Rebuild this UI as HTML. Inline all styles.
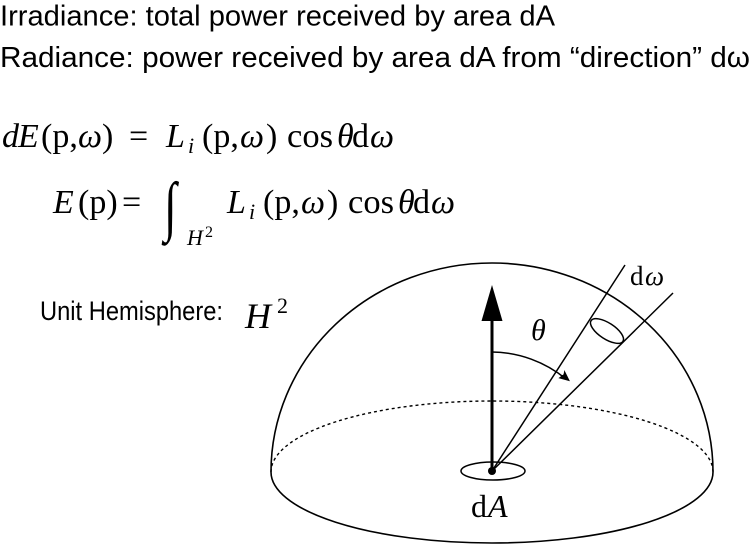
<!DOCTYPE html>
<html>
<head>
<meta charset="utf-8">
<style>
  html,body{margin:0;padding:0;background:#fff;}
  svg{display:block;}
  .s{font-family:"Liberation Sans",sans-serif;fill:#000;}
  .m{font-family:"Liberation Serif",serif;fill:#000;font-weight:normal;}
  .i{font-style:italic;}
</style>
</head>
<body>
<svg width="755" height="548" viewBox="0 0 755 548" xmlns="http://www.w3.org/2000/svg">
  <!-- Header text -->
  <text class="s" x="0" y="25.5" font-size="29" textLength="555" lengthAdjust="spacingAndGlyphs">Irradiance: total power received by area dA</text>
  <text class="s" x="0" y="67" font-size="29" textLength="750" lengthAdjust="spacingAndGlyphs">Radiance: power received by area dA from “direction” dω</text>

  <!-- Equation 1 -->
  <g class="m" font-size="34">
    <text class="i" x="2" y="147">d</text>
    <text class="i" x="18" y="147">E</text>
    <text x="41" y="147">(p,</text>
    <text class="i" x="78" y="147">ω</text>
    <text x="102" y="147">)</text>
    <text x="129" y="147">=</text>
    <text class="i" x="166" y="147">L</text>
    <text class="i" x="188" y="153" font-size="22">i</text>
    <text x="202" y="147">(p,</text>
    <text class="i" x="240" y="147">ω</text>
    <text x="266" y="147">)</text>
    <text x="287" y="147" textLength="46" lengthAdjust="spacingAndGlyphs">cos</text>
    <text class="i" x="337" y="147">θ</text>
    <text x="352" y="147">d</text>
    <text class="i" x="370" y="147">ω</text>
  </g>

  <!-- Equation 2 -->
  <g class="m" font-size="34">
    <text class="i" x="53" y="213">E</text>
    <text x="78" y="213">(p)</text>
    <text x="122" y="213">=</text>
    <text class="i" transform="translate(164,228) scale(1.15,1.65)" font-size="40">∫</text>
    <text class="i" x="187" y="245" font-size="22">H</text>
    <text x="205" y="237" font-size="16">2</text>
    <text class="i" x="227" y="213">L</text>
    <text class="i" x="249" y="219" font-size="22">i</text>
    <text x="263" y="213">(p,</text>
    <text class="i" x="301" y="213">ω</text>
    <text x="327" y="213">)</text>
    <text x="348" y="213" textLength="46" lengthAdjust="spacingAndGlyphs">cos</text>
    <text class="i" x="398" y="213">θ</text>
    <text x="413" y="213">d</text>
    <text class="i" x="431" y="213">ω</text>
  </g>

  <!-- Unit Hemisphere label -->
  <text class="s" x="40" y="320" font-size="27" textLength="183" lengthAdjust="spacingAndGlyphs">Unit Hemisphere:</text>
  <text class="m i" x="245" y="328" font-size="36">H</text>
  <text class="m" x="277" y="313" font-size="22">2</text>

  <!-- Hemisphere -->
  <g fill="none" stroke="#000">
    <path d="M271,472 A221,209 0 0 1 713,472" stroke-width="1.6"/>
    <path d="M271,472 A221,71 0 0 1 713,472" stroke-width="1.4" stroke-dasharray="3,3"/>
    <path d="M271,472 A221,71 0 0 0 713,472" stroke-width="1.6"/>
    <ellipse cx="493" cy="471" rx="32" ry="9" stroke-width="1.5"/>
    <path d="M492,471 L625,265" stroke-width="1.5"/>
    <path d="M492,471 L673,293" stroke-width="1.5"/>
    <ellipse cx="607" cy="331" rx="19" ry="8" transform="rotate(33 607 331)" stroke-width="1.5"/>
    <path d="M492,352 A119,119 0 0 1 566,379" stroke-width="1.5"/>
    <path d="M492,471 L492,318" stroke-width="3"/>
  </g>
  <polygon points="492,285 481.5,321 502.5,321" fill="#000"/>
  <path d="M569,380.5 L564.6,371.7 Q564,376 562.5,375.5 Q561,377 559.6,377.9 Z" fill="#000" stroke="#000" stroke-width="1"/>
  <circle cx="492" cy="471" r="4" fill="#000"/>

  <!-- Diagram labels -->
  <text class="m i" x="531" y="340" font-size="30">θ</text>
  <text class="m" x="630" y="285" font-size="27">d</text>
  <text class="m i" x="645" y="285" font-size="27">ω</text>
  <text class="m" x="471" y="517" font-size="32">d</text>
  <text class="m i" x="488" y="517" font-size="32">A</text>
</svg>
</body>
</html>
